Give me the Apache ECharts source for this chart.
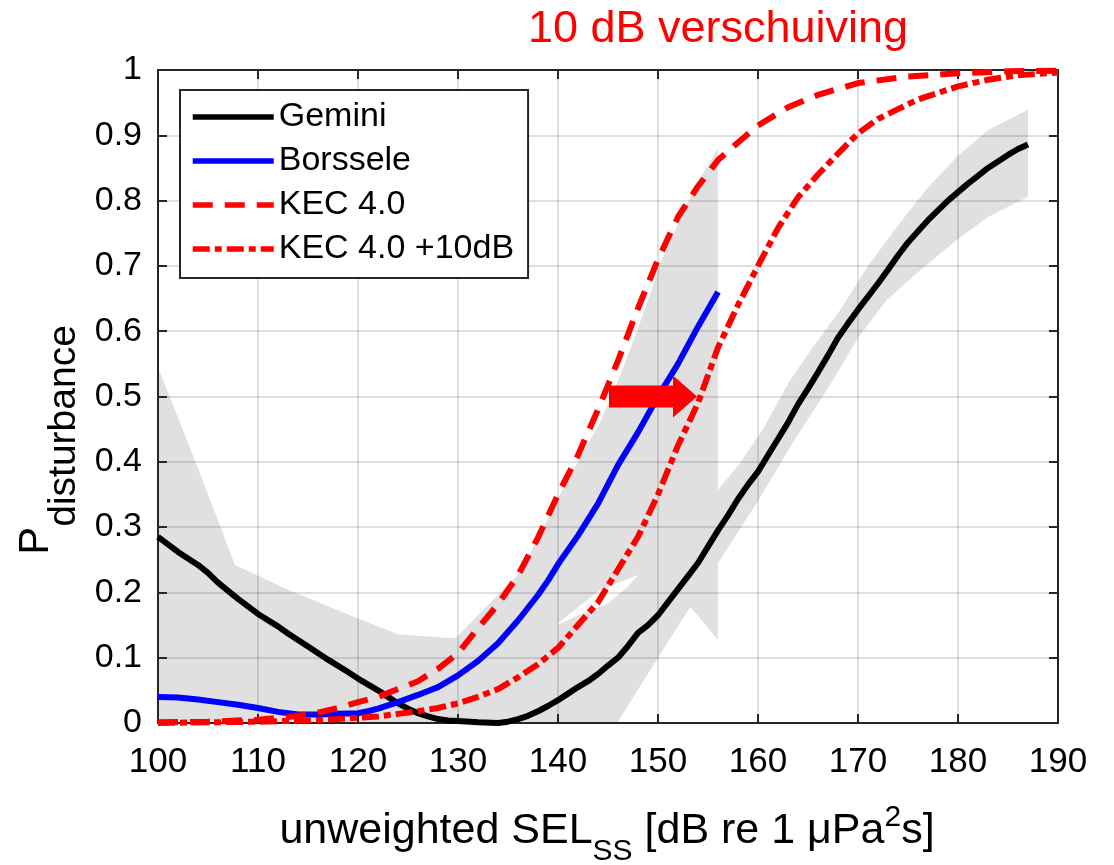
<!DOCTYPE html>
<html>
<head>
<meta charset="utf-8">
<script src="https://cdn.jsdelivr.net/npm/echarts@6/dist/echarts.min.js"></script>
<style>
html,body{margin:0;padding:0;background:#fff;}
#chart{width:1114px;height:865px;}
</style>
</head>
<body>
<div id="chart"></div>
<script>
// ---- data ----
const xTicks = [100, 110, 120, 130, 140, 150, 160, 170, 180, 190];
const yTicks = [0, 0.1, 0.2, 0.3, 0.4, 0.5, 0.6, 0.7, 0.8, 0.9, 1];

const gemini = [
  [100,0.285],[102,0.262],[104,0.242],[105,0.230],[106,0.215],[108,0.190],[110,0.167],[112,0.148],
  [113,0.137],[115,0.117],[117,0.097],[119,0.078],[120,0.068],[122,0.050],[123,0.040],[124,0.030],
  [125,0.022],[126,0.015],[127,0.010],[128,0.006],[129,0.004],[130,0.003],[132,0.001],[134,0.000],
  [135,0.002],[136,0.006],[137,0.011],[138,0.018],[139,0.026],[140,0.035],[141,0.045],[142,0.055],
  [143,0.064],[144,0.075],[145,0.088],[146,0.100],[147,0.118],[148,0.138],[149,0.150],[150,0.165],
  [151,0.185],[152,0.205],[153,0.225],[154,0.245],[155,0.270],[156,0.295],[157,0.318],[158,0.343],
  [159,0.365],[160,0.385],[161,0.410],[162,0.435],[163,0.460],[164,0.488],[165,0.512],[166,0.537],
  [167,0.563],[168,0.590],[169,0.612],[170,0.633],[171,0.653],[172,0.673],[173,0.694],[174,0.716],
  [175,0.736],[176,0.753],[177,0.770],[178,0.785],[179,0.800],[180,0.813],[181,0.826],[182,0.838],
  [183,0.850],[184,0.860],[185,0.870],[186,0.879],[187,0.886]
];

const borssele = [
  [100,0.040],[102,0.039],[104,0.036],[106,0.032],[108,0.028],[110,0.023],[112,0.017],[114,0.013],
  [116,0.013],[118,0.014],[120,0.015],[121,0.018],[122,0.022],[124,0.032],[126,0.043],[128,0.055],
  [130,0.073],[132,0.095],[134,0.122],[136,0.157],[138,0.196],[139,0.218],[140,0.243],[142,0.287],
  [144,0.336],[146,0.395],[148,0.445],[150,0.500],[152,0.550],[154,0.607],[156,0.660]
];

const kec = [
  [100,0.001],[105,0.002],[110,0.005],[113,0.009],[116,0.016],[118,0.023],[120,0.032],[122,0.040],
  [124,0.052],[126,0.064],[128,0.083],[130,0.107],[132,0.145],[134,0.182],[136,0.226],[138,0.284],
  [140,0.350],[142,0.410],[144,0.480],[146,0.555],[148,0.635],[150,0.710],[152,0.775],[154,0.822],
  [156,0.862],[158,0.889],[160,0.915],[163,0.943],[166,0.962],[170,0.980],[175,0.990],[180,0.995],
  [185,0.998],[190,0.999]
];

const kec10 = [
  [100,0.000],[105,0.001],[110,0.002],[115,0.004],[118,0.006],[120,0.008],[122,0.010],[124,0.014],
  [126,0.018],[128,0.023],[130,0.030],[132,0.040],[134,0.052],[136,0.070],[138,0.090],[140,0.115],
  [142,0.150],[144,0.185],[146,0.235],[148,0.285],[150,0.350],[152,0.425],[154,0.490],[156,0.575],
  [158,0.640],[160,0.700],[162,0.758],[164,0.805],[166,0.840],[168,0.872],[170,0.903],[172,0.925],
  [174,0.940],[176,0.955],[178,0.965],[180,0.975],[183,0.985],[186,0.992],[190,0.996]
];

// confidence bands (upper edge and lower edge)
const geminiBandUpper = [
  [100,0.545],[104,0.390],[107.7,0.242],[113,0.204],[119.7,0.162],[124,0.136],[129,0.130],[131,0.130],
  [135,0.133],[138,0.140],[140.2,0.152],[142,0.165],[144.9,0.182],[146.9,0.208],[147.9,0.224],
  [150,0.255],[152,0.290],[154,0.320],[156,0.357],[158.2,0.398],[160.5,0.450],[163.2,0.525],
  [165.7,0.580],[168.2,0.632],[171,0.700],[174.2,0.766],[177,0.820],[179.9,0.867],[183,0.908],[187,0.939]
];
const geminiBandLower = [
  [100,0],[145.9,0],[153.5,0.185],[156,0.245],[160,0.340],[163.5,0.430],[167.5,0.525],[170,0.590],
  [172.9,0.648],[175.9,0.689],[179.9,0.740],[183,0.775],[187,0.806]
];
const borsseleBandUpper = [
  [100,0.120],[110,0.080],[120,0.090],[126,0.110],[129.9,0.132],[132.2,0.168],[136.2,0.230],[137.9,0.280],
  [139.9,0.342],[142,0.400],[144,0.455],[145.5,0.505],[147.9,0.600],[150.5,0.714],[153.9,0.827],[155.9,0.877],[156,0.877]
];
const borsseleBandLower = [
  [100,0],[120,0],[125,0.010],[130,0.040],[135,0.090],[138,0.125],[140.2,0.155],[144.2,0.204],
  [147.9,0.226],[150,0.215],[153.5,0.173],[156,0.127]
];

// shift arrow: [tail x, tip x, y]
const shiftArrow = [[145.1, 153.9, 0.5]];

const seriesNames = ['Gemini', 'Borssele', 'KEC 4.0', 'KEC 4.0 +10dB'];
const titleText = '10 dB verschuiving';

// ---- chart ----
const chart = echarts.init(document.getElementById('chart'));
const FONT = 'Liberation Sans, Arial, sans-serif';
const AX = '#262626';
const GRIDC = 'rgba(38,38,38,0.15)';
const LW = 6;

function bandSeries(name, upper, lower) {
  return {
    name: name, type: 'custom', z: 1, silent: true,
    data: [0],
    renderItem: function (params, api) {
      const pts = [];
      upper.forEach(p => pts.push(api.coord(p)));
      lower.slice().reverse().forEach(p => pts.push(api.coord(p)));
      return { type: 'polygon', shape: { points: pts }, style: { fill: '#e0e0e0', stroke: null } };
    }
  };
}

const option = {
  animation: false,
  backgroundColor: '#ffffff',
  grid: { left: 158, right: 56, top: 70, bottom: 142 },
  xAxis: [{
    type: 'value', min: 100, max: 190, interval: 10, z: 2,
    axisLine: { show: true, lineStyle: { color: AX, width: 2 } },
    axisTick: { show: true, inside: true, length: 9, lineStyle: { color: AX, width: 2 } },
    axisLabel: { fontFamily: FONT, fontSize: 35, color: '#000', margin: 22 },
    splitLine: { show: true, lineStyle: { color: GRIDC, width: 2 } }
  }, {
    type: 'value', min: 100, max: 190, interval: 10, position: 'top', z: 2,
    axisLine: { show: true, onZero: false, lineStyle: { color: AX, width: 2 } },
    axisTick: { show: true, inside: true, length: 9, lineStyle: { color: AX, width: 2 } },
    axisLabel: { show: false }, splitLine: { show: false }
  }],
  yAxis: [{
    type: 'value', min: 0, max: 1, interval: 0.1, z: 2,
    axisLine: { show: true, onZero: false, lineStyle: { color: AX, width: 2 } },
    axisTick: { show: true, inside: true, length: 9, lineStyle: { color: AX, width: 2 } },
    axisLabel: { fontFamily: FONT, fontSize: 34, color: '#000', margin: 16,
      formatter: v => yTicks.includes(Math.round(v * 10) / 10) ? String(Math.round(v * 10) / 10) : '' },
    splitLine: { show: true, lineStyle: { color: GRIDC, width: 2 } }
  }, {
    type: 'value', min: 0, max: 1, interval: 0.1, position: 'right', z: 2,
    axisLine: { show: true, onZero: false, lineStyle: { color: AX, width: 2 } },
    axisTick: { show: true, inside: true, length: 9, lineStyle: { color: AX, width: 2 } },
    axisLabel: { show: false }, splitLine: { show: false }
  }],
  legend: {
    data: seriesNames,
    orient: 'vertical', left: 180, top: 90,
    padding: [10, 14, 12, 10],
    itemWidth: 81, itemHeight: 20, itemGap: 10,
    itemStyle: { opacity: 0 },
    lineStyle: { width: 5.5 },
    backgroundColor: '#fff', borderColor: AX, borderWidth: 2,
    textStyle: { fontFamily: FONT, fontSize: 34, color: '#000', lineHeight: 34 },
    selectedMode: false
  },
  graphic: [
    { type: 'text', x: 718, y: 30, z: 10,
      style: { text: titleText, fill: '#ff0000', font: '45px ' + FONT, textAlign: 'center', textVerticalAlign: 'middle' } },
    { type: 'text', x: 607, y: 831, z: 10,
      style: {
        text: '{a|unweighted SEL}{b|SS}{a| [dB re 1 μPa}{c|2}{a|s]}',
        textAlign: 'center', textVerticalAlign: 'middle', fill: '#000',
        rich: {
          a: { fontFamily: FONT, fontSize: 43, lineHeight: 72, verticalAlign: 'middle', fill: '#000' },
          b: { fontFamily: FONT, fontSize: 30, verticalAlign: 'bottom', fill: '#000' },
          c: { fontFamily: FONT, fontSize: 30, verticalAlign: 'top', padding: [8, 0, 0, 0], fill: '#000' }
        }
      } },
    { type: 'text', x: 36, y: 440, rotation: Math.PI / 2, z: 10,
      style: {
        text: '{p|P}{s|disturbance}',
        textAlign: 'center', textVerticalAlign: 'middle', fill: '#000',
        rich: {
          p: { fontFamily: FONT, fontSize: 42, lineHeight: 96, verticalAlign: 'middle', fill: '#000' },
          s: { fontFamily: FONT, fontSize: 39, verticalAlign: 'bottom', fill: '#000' }
        }
      } }
  ],
  series: [
    bandSeries('band-gemini', geminiBandUpper, geminiBandLower),
    bandSeries('band-borssele', borsseleBandUpper, borsseleBandLower),
    { name: seriesNames[0], type: 'line', data: gemini, symbol: 'none', z: 3,
      lineStyle: { color: '#000000', width: LW }, itemStyle: { color: '#000000' } },
    { name: seriesNames[1], type: 'line', data: borssele, symbol: 'none', z: 3,
      lineStyle: { color: '#0000ff', width: LW }, itemStyle: { color: '#0000ff' } },
    { name: seriesNames[2], type: 'line', data: kec, symbol: 'none', z: 3,
      lineStyle: { color: '#ff0000', width: LW, type: [20, 12] }, itemStyle: { color: '#ff0000' } },
    { name: seriesNames[3], type: 'line', data: kec10, symbol: 'none', z: 3,
      lineStyle: { color: '#ff0000', width: LW, type: [17, 5, 7, 5] }, itemStyle: { color: '#ff0000' } },
    { name: 'arrow', type: 'custom', z: 4, silent: true, data: shiftArrow,
      renderItem: function (params, api) {
        const a = api.coord([api.value(0), api.value(2)]);
        const b = api.coord([api.value(1), api.value(2)]);
        const hl = 24, sh = 11, hh = 21;
        const pts = [
          [a[0], a[1] - sh], [b[0] - hl, a[1] - sh], [b[0] - hl, a[1] - hh], [b[0], b[1]],
          [b[0] - hl, a[1] + hh], [b[0] - hl, a[1] + sh], [a[0], a[1] + sh]
        ];
        return { type: 'polygon', shape: { points: pts }, style: { fill: '#ff0000' } };
      } }
  ]
};
chart.setOption(option);
</script>
</body>
</html>
